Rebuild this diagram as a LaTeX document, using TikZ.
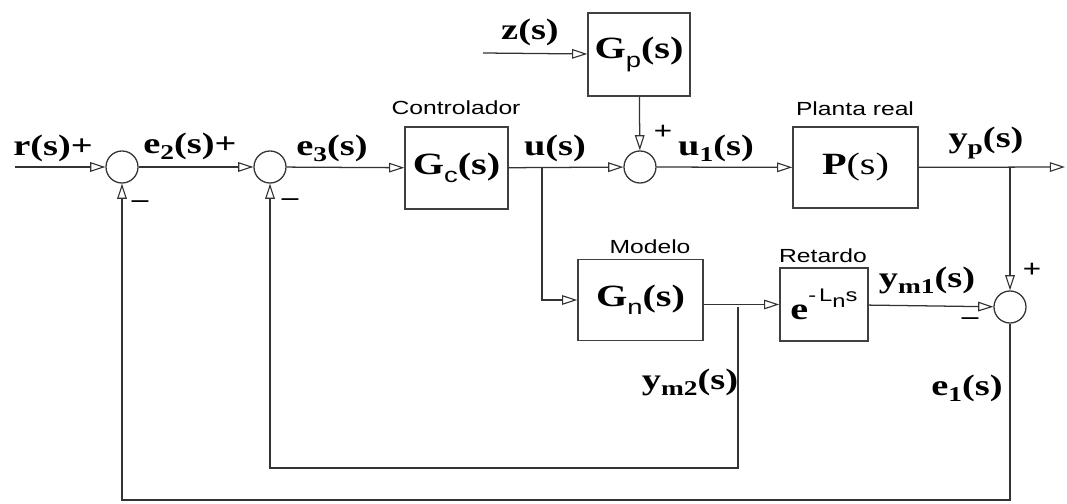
\documentclass[tikz,border=0pt]{standalone}
\usepackage{fontspec}
\setmainfont[FakeStretch=1.3]{Liberation Serif}
\setsansfont[FakeStretch=1.3]{Liberation Sans}
\usepackage{tikz}
\usetikzlibrary{arrows.meta, positioning, calc}

% subindices
\newcommand{\bsub}[1]{\raisebox{-0.45ex}{\fontsize{15}{15}\selectfont #1}}
\newcommand{\ssub}[1]{\raisebox{-0.6ex}{\sffamily\mdseries\fontsize{15}{15}\selectfont #1}}

\begin{document}
\begin{tikzpicture}[
x=0.025cm, y=-0.025cm,
block/.style={rectangle, draw=black!75, line width=1pt, inner sep=0pt,
font=\fontsize{22}{24}\selectfont\bfseries},
sumnode/.style={circle, draw=black!80, line width=0.9pt, minimum size=0.8cm, inner sep=0pt},
sig/.style={font=\fontsize{21}{23}\selectfont\bfseries, inner sep=0pt},
caption/.style={font=\sffamily\fontsize{13.5}{15}\selectfont, inner sep=0pt},
sign/.style={font=\fontsize{18}{20}\selectfont\bfseries, inner sep=0pt},
line/.style={draw=black!80, line width=0.9pt},
arrow/.style={line, -{Triangle[open, length=0.38cm, width=0.24cm, line width=0.8pt]}}
]
\useasboundingbox (0,0) rectangle (1067,504);

% sumadores
\node[sumnode] (s1) at (122,167) {};
\node[sumnode] (s2) at (270,167) {};
\node[sumnode] (s3) at (640,167) {};
\node[sumnode] (s4) at (1010,307) {};

% bloques
\node[block, minimum width=2.575cm, minimum height=2.05cm] (gc) at (456.5,168) {G\ssub{c}(s)};
\node[block, minimum width=2.55cm, minimum height=2.075cm] (gp) at (639,54.5) {G\ssub{p}(s)};
\node[block, minimum width=3.125cm, minimum height=2.025cm] (p) at (855.5,167.5) {P\mdseries(s)};
\node[block, minimum width=3.125cm, minimum height=2.025cm] (gn) at (640.5,300) {G\ssub{n}(s)};
\node[block, minimum width=2.2cm, minimum height=1.825cm] (ret) at (824,304.5)
  {e\raisebox{1.3ex}{\sffamily\mdseries\fontsize{13}{13}\selectfont -\,L\raisebox{-0.6ex}{n}s}};

% titulos
\node[caption] (tc) at (456,108) {Controlador};
\node[caption] (tp) at (855,109) {Planta real};
\node[caption] (tm) at (650,247) {Modelo};
\node[caption] (tr) at (823,256) {Retardo};

% senales
\node[sig] (lr) at (53,148) {r(s)+};
\node[sig] (le2) at (190,146) {e\bsub{2}(s)+};
\node[sig] (le3) at (332,148) {e\bsub{3}(s)};
\node[sig] (lu) at (555,148) {u(s)};
\node[sig] (lz) at (530,32) {z(s)};
\node[sig] (lu1) at (716,148) {u\bsub{1}(s)};
\node[sig] (lyp) at (986,143) {y\bsub{p}(s)};
\node[sig] (lym1) at (927,280) {y\bsub{m1}(s)};
\node[sig] (lym2) at (690,382) {y\bsub{m2}(s)};
\node[sig] (le1) at (967,388) {e\bsub{1}(s)};

% signos
\node[sign] (m1) at (140,204) {--};
\node[sign] (m2) at (290,202) {--};
\node[sign] (p3) at (663,132) {+};
\node[sign] (p4) at (1032,270) {+};
\node[sign] (m4) at (970,321) {--};

% puntos auxiliares
\coordinate (rin) at (15,167);
\coordinate (zin) at (483,53);
\coordinate (bu) at (542,167);
\coordinate (yout) at (1065,167);
\coordinate (by) at (1010,167);
\coordinate (bm2) at (738,307);
\coordinate (c2) at (738,468);
\coordinate (c1) at (1010,500);

% conexiones
\draw[arrow] (rin) -- (s1);
\draw[arrow] (s1) -- (s2);
\draw[arrow] (s2) -- (gc);
\draw[arrow] (gc) -- (s3);
\draw[arrow] (zin) -- (gp);
\draw[arrow] (gp) -- (s3);
\draw[arrow] (s3) -- (p);
\draw[arrow] (p) -- (yout);
\draw[arrow] (by) -- (s4);
\draw[arrow] (bu) |- (gn.west);
\draw[arrow] (gn.east |- ret) -- (ret);
\draw[arrow] (ret) -- (s4);
\draw[arrow] (bm2) -- (c2) -| (s2);
\draw[arrow] (s4) -- (c1) -| (s1);

\end{tikzpicture}
\end{document}
